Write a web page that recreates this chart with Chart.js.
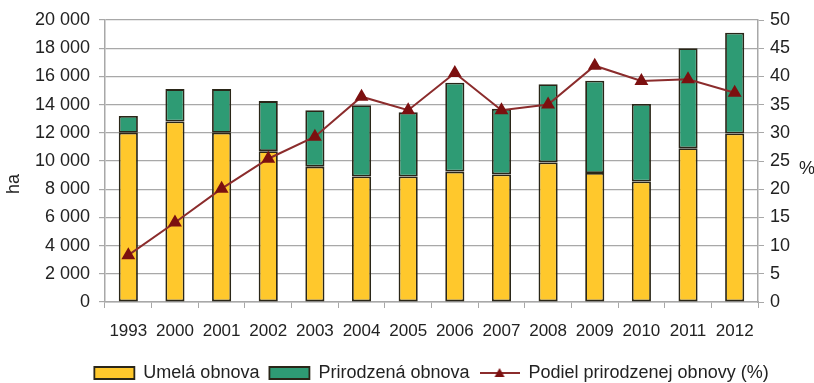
<!DOCTYPE html>
<html>
<head>
<meta charset="utf-8">
<script src="https://cdn.jsdelivr.net/npm/chart.js@4"></script>
<style>
  html, body { margin: 0; padding: 0; background: #fff; }
  #wrap { width: 814px; height: 383px; }
</style>
</head>
<body>
<div id="wrap"><canvas id="c" width="814" height="383"></canvas></div>
<script>
// values
const years = ['1993', '2000', '2001', '2002', '2003', '2004', '2005',
               '2006', '2007', '2008', '2009', '2010', '2011', '2012'];
const umelaObnova = [12000, 12800, 12000, 10700, 9600, 8900, 8900,
                     9250, 9050, 9900, 9150, 8550, 10900, 11950];
const prirodzenaObnova = [1200, 2300, 3100, 3550, 4000, 5050, 4550,
                          6300, 4650, 5550, 6550, 5500, 7100, 7150];
const podielPrirodzenej = [8.3, 14.1, 20.1, 25.4, 29.3, 36.4, 34.0,
                           40.6, 34.0, 35.0, 41.9, 39.2, 39.5, 37.1];

const FONT = "'Liberation Sans', Arial, sans-serif";
const TEXT = '#222';
const GRID = '#a8a8a8';
const YELLOW = '#FFC82C';
const GREEN = '#2E9B74';
const EDGE = '#2a2618';
const RED_LINE = '#8B2C2C';
const RED_MARK = '#7C1010';

// thousands with a space, like "20 000"
function spaced(v) {
  return String(v).replace(/\B(?=(\d{3})+(?!\d))/g, ' ');
}

// little picture for the line's legend entry: line with a triangle
function lineLegendIcon() {
  const cv = document.createElement('canvas');
  cv.width = 40; cv.height = 14;
  const g = cv.getContext('2d');
  g.strokeStyle = RED_LINE;
  g.lineWidth = 2;
  g.beginPath(); g.moveTo(0, 7); g.lineTo(40, 7); g.stroke();
  g.fillStyle = RED_MARK;
  g.beginPath(); g.moveTo(20, 2); g.lineTo(25, 11); g.lineTo(15, 11); g.closePath(); g.fill();
  return cv;
}
const lineIcon = lineLegendIcon();

// "ha" and "%" axis names (the % one stands upright)
const axisNames = {
  id: 'axisNames',
  afterDraw(chart) {
    const ctx = chart.ctx;
    const a = chart.chartArea;
    const mid = (a.top + a.bottom) / 2;
    ctx.save();
    ctx.fillStyle = TEXT;
    ctx.font = '18px ' + FONT;
    ctx.textAlign = 'center';
    ctx.textBaseline = 'middle';
    ctx.translate(chart.scales.y.left + 14, mid + 23);
    ctx.rotate(-Math.PI / 2);
    ctx.fillText('ha', 0, 0);
    ctx.restore();
    ctx.save();
    ctx.fillStyle = TEXT;
    ctx.font = '18px ' + FONT;
    ctx.textAlign = 'center';
    ctx.textBaseline = 'middle';
    ctx.fillText('%', chart.scales.y1.right - 7, mid + 8);
    ctx.restore();
  }
};

// legend in the picture sits centred under the plot, not the page
const legendShift = {
  id: 'legendShift',
  afterLayout(chart) {
    const a = chart.chartArea;
    const d = (a.left + a.right) / 2 - chart.width / 2;
    chart.legend.left += d;
    chart.legend.right += d;
  }
};

new Chart(document.getElementById('c'), {
  type: 'bar',
  data: {
    labels: years,
    datasets: [
      {
        label: 'Umelá obnova',
        data: umelaObnova,
        backgroundColor: YELLOW,
        borderColor: EDGE,
        borderWidth: 1.8,
        borderSkipped: false,
        yAxisID: 'y',
        order: 2
      },
      {
        label: 'Prirodzená obnova',
        data: prirodzenaObnova,
        backgroundColor: GREEN,
        borderColor: EDGE,
        borderWidth: 1.8,
        borderSkipped: false,
        yAxisID: 'y',
        order: 2
      },
      {
        type: 'line',
        label: 'Podiel prirodzenej obnovy (%)',
        data: podielPrirodzenej,
        borderColor: RED_LINE,
        borderWidth: 2,
        backgroundColor: RED_MARK,
        pointStyle: 'triangle',
        pointRadius: 6,
        pointBorderColor: RED_MARK,
        pointBackgroundColor: RED_MARK,
        yAxisID: 'y1',
        order: 1
      }
    ]
  },
  options: {
    responsive: false,
    animation: false,
    devicePixelRatio: 1,
    layout: { padding: { top: 20, bottom: -9, left: 0, right: 0 } },
    datasets: {
      bar: { categoryPercentage: 1, barPercentage: 0.41 }
    },
    scales: {
      x: {
        stacked: true,
        grid: {
          offset: true,
          drawOnChartArea: false,
          drawTicks: true,
          tickLength: 6,
          color: GRID
        },
        border: { color: GRID, width: 1.5 },
        ticks: {
          color: TEXT,
          padding: 13,
          maxRotation: 0,
          autoSkip: false,
          font: { family: FONT, size: 17 }
        },
        afterFit(s) { s.height = 52; }
      },
      y: {
        stacked: true,
        position: 'left',
        min: 0,
        max: 20000,
        grid: { color: GRID, lineWidth: 1.2, tickLength: 6 },
        border: { color: GRID, width: 1.5 },
        ticks: {
          stepSize: 2000,
          color: TEXT,
          padding: 9,
          font: { family: FONT, size: 18 },
          callback: v => spaced(v)
        },
        afterFit(s) { s.width = 105; }
      },
      y1: {
        stacked: false,
        position: 'right',
        min: 0,
        max: 50,
        grid: { drawOnChartArea: false, color: GRID, tickLength: 6 },
        border: { color: GRID, width: 1.5 },
        ticks: {
          stepSize: 5,
          color: TEXT,
          padding: 6,
          font: { family: FONT, size: 18 }
        },
        afterFit(s) { s.width = 56; }
      }
    },
    plugins: {
      tooltip: { enabled: false },
      legend: {
        position: 'bottom',
        labels: {
          color: TEXT,
          font: { family: FONT, size: 18 },
          usePointStyle: true,
          pointStyleWidth: 40,
          boxHeight: 12,
          padding: 10,
          sort: (a, b) => a.datasetIndex - b.datasetIndex,
          generateLabels(chart) {
            const items = Chart.defaults.plugins.legend.labels.generateLabels(chart);
            items.forEach(it => {
              if (it.datasetIndex === 2) {
                it.pointStyle = lineIcon;
              } else {
                it.pointStyle = 'rect';
              }
            });
            return items;
          }
        }
      }
    }
  },
  plugins: [axisNames, legendShift]
});
</script>
</body>
</html>
